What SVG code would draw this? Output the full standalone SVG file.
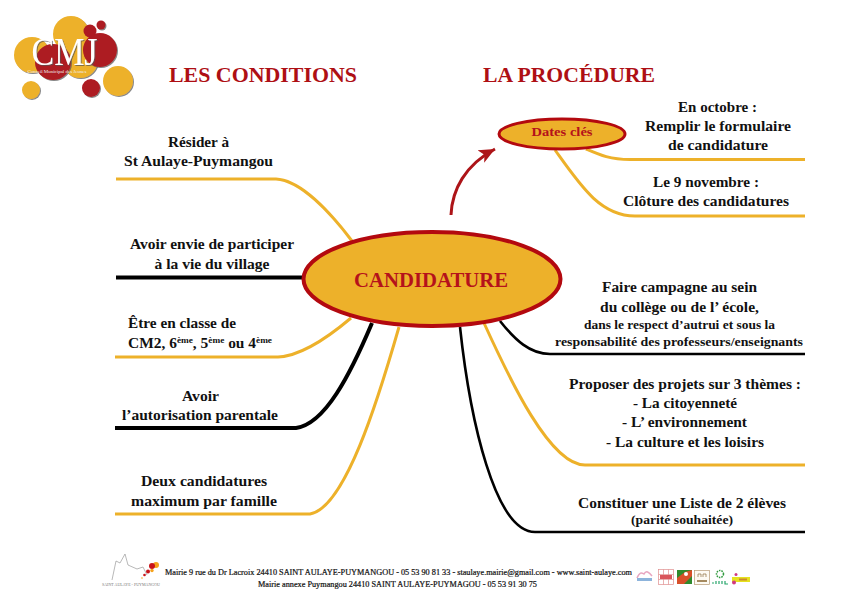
<svg xmlns="http://www.w3.org/2000/svg" width="842" height="595" viewBox="0 0 842 595">
<style>
text{font-family:"Liberation Serif","Times New Roman",serif;font-weight:bold;fill:#111;text-anchor:middle}
.t{font-size:15px}.s{font-size:13px}.h{font-size:22px;fill:#ae0f14}
.f{font-size:7.5px;font-weight:normal;stroke:#111;stroke-width:.2px}
.g{fill:none;stroke:#edb12a;stroke-width:3}.k{fill:none;stroke:#000;stroke-width:2.600}
.gold{fill:#edb12a}.red{fill:#ad1a21}
.el{fill:#edb12a;stroke:#b3090f}
</style>
<defs>
<marker id="ah" markerUnits="userSpaceOnUse" markerWidth="20" markerHeight="16" refX="16" refY="8" orient="auto"><path d="M0,1 L16,8 L0,15 L4,8 Z" fill="#ad1418"/></marker>
<filter id="sh" x="-20%" y="-20%" width="150%" height="150%"><feDropShadow dx="1" dy="1" stdDeviation="0.7" flood-color="#555" flood-opacity=".7"/></filter>
</defs>

<g id="logo-cmj">
<circle class="gold" cx="71" cy="34" r="18" filter="url(#sh)"/>
<circle class="gold" cx="32" cy="55" r="18" filter="url(#sh)"/>
<circle class="gold" cx="80" cy="60" r="18" filter="url(#sh)"/>
<circle class="red" cx="53" cy="62" r="18" filter="url(#sh)"/>
<circle class="red" cx="100" cy="50" r="17" filter="url(#sh)"/>
<circle class="red" cx="90" cy="31" r="6.500"/>
<circle class="red" cx="101" cy="25" r="4.500" filter="url(#sh)"/>
<circle class="gold" cx="118" cy="81" r="15" filter="url(#sh)"/>
<circle class="red" cx="91" cy="88" r="9" filter="url(#sh)"/>
<circle class="gold" cx="31" cy="90" r="9" filter="url(#sh)"/>
<text x="64.500" y="65" textLength="66" lengthAdjust="spacingAndGlyphs" filter="url(#sh)" style="font-size:40px;fill:#fff;font-weight:normal">CMJ</text>
<text x="57" y="72.500" textLength="59" lengthAdjust="spacingAndGlyphs" style="font-size:5px;fill:#eee;font-weight:normal">Conseil Municipal des Jeunes</text>
</g>

<g id="titles">
<text class="h" x="263" y="82" textLength="188" lengthAdjust="spacingAndGlyphs">LES CONDITIONS</text>
<text class="h" x="569" y="82" textLength="172" lengthAdjust="spacingAndGlyphs">LA PROCÉDURE</text>
</g>

<g id="connectors">
<path class="g" d="M116,179 H276 C300,180 330,212 352,241"/>
<path class="k" style="stroke-width:4" d="M116,277.500 H304"/>
<path class="g" d="M115,357 H278 C300,356 325,340 351,318"/>
<path class="k" style="stroke-width:4" d="M115,428 H296 C325,424 350,375 372,323"/>
<path class="g" d="M115,514 H310 C345,508 378,400 399,327"/>
<path class="k" d="M500,321 C515,340 530,354 550,354 H805"/>
<path class="g" d="M484,323 C510,380 550,465 585,465 H805"/>
<path class="k" d="M460,327 C470,420 495,532 535,532 H805"/>
<path class="g" d="M586,149 C600,155 610,159.500 630,159.500 H805"/>
<path class="g" d="M555,150 C580,185 600,216 635,216 H805"/>
<path d="M451,215 C452,190 465,165 495,149" fill="none" stroke="#ad1418" stroke-width="3" marker-end="url(#ah)"/>
</g>

<g id="node-candidature">
<ellipse class="el" cx="432" cy="279" rx="128.500" ry="47" stroke-width="4"/>
<text x="431" y="287" textLength="154" lengthAdjust="spacingAndGlyphs" style="font-size:21px;fill:#b5121b">CANDIDATURE</text>
</g>
<g id="node-dates">
<ellipse class="el" cx="562" cy="134" rx="63" ry="15" stroke-width="3"/>
<text x="562" y="136" textLength="61" lengthAdjust="spacingAndGlyphs" style="font-size:13.500px;fill:#b5121b">Dates clés</text>
</g>

<g id="cond-resider">
<text class="t" x="198.500" y="146.500" textLength="61" lengthAdjust="spacingAndGlyphs">Résider à</text>
<text class="t" x="198.500" y="166" textLength="149" lengthAdjust="spacingAndGlyphs">St Aulaye-Puymangou</text>
</g>
<g id="cond-envie">
<text class="t" x="212" y="249" textLength="164" lengthAdjust="spacingAndGlyphs">Avoir envie de participer</text>
<text class="t" x="212" y="269" textLength="115" lengthAdjust="spacingAndGlyphs">à la vie du village</text>
</g>
<g id="cond-classe">
<text class="t" x="182" y="328" textLength="108" lengthAdjust="spacingAndGlyphs">Être en classe de</text>
<text class="t" x="200" y="348" textLength="144" lengthAdjust="spacingAndGlyphs">CM2, 6<tspan dy="-5" font-size="9">ème</tspan><tspan dy="5">, 5</tspan><tspan dy="-5" font-size="9">ème</tspan><tspan dy="5"> ou 4</tspan><tspan dy="-5" font-size="9">ème</tspan></text>
</g>
<g id="cond-autorisation">
<text class="t" x="200.500" y="401" textLength="37" lengthAdjust="spacingAndGlyphs">Avoir</text>
<text class="t" x="200" y="420" textLength="156" lengthAdjust="spacingAndGlyphs">l’autorisation parentale</text>
</g>
<g id="cond-famille">
<text class="t" x="204" y="486" textLength="126" lengthAdjust="spacingAndGlyphs">Deux candidatures</text>
<text class="t" x="204" y="506" textLength="146" lengthAdjust="spacingAndGlyphs">maximum par famille</text>
</g>

<g id="proc-octobre">
<text class="t" x="717.500" y="112" textLength="79" lengthAdjust="spacingAndGlyphs">En octobre :</text>
<text class="t" x="718" y="131" textLength="146" lengthAdjust="spacingAndGlyphs">Remplir le formulaire</text>
<text class="t" x="718" y="150" textLength="100" lengthAdjust="spacingAndGlyphs">de candidature</text>
</g>
<g id="proc-novembre">
<text class="t" x="706" y="187" textLength="106" lengthAdjust="spacingAndGlyphs">Le 9 novembre :</text>
<text class="t" x="706" y="206" textLength="166" lengthAdjust="spacingAndGlyphs">Clôture des candidatures</text>
</g>
<g id="proc-campagne">
<text class="t" x="679.500" y="292" textLength="155" lengthAdjust="spacingAndGlyphs">Faire campagne au sein</text>
<text class="t" x="679.500" y="312" textLength="159" lengthAdjust="spacingAndGlyphs">du collège ou de l’ école,</text>
<text class="s" x="679.500" y="329" textLength="191" lengthAdjust="spacingAndGlyphs">dans le respect d’autrui et sous la</text>
<text class="s" x="679" y="346" textLength="248" lengthAdjust="spacingAndGlyphs">responsabilité des professeurs/enseignants</text>
</g>
<g id="proc-projets">
<text class="t" x="685" y="389" textLength="232" lengthAdjust="spacingAndGlyphs">Proposer des projets sur 3 thèmes :</text>
<text class="t" x="685" y="408" textLength="104" lengthAdjust="spacingAndGlyphs">- La citoyenneté</text>
<text class="t" x="684.500" y="427" textLength="125" lengthAdjust="spacingAndGlyphs">- L’ environnement</text>
<text class="t" x="685" y="447" textLength="158" lengthAdjust="spacingAndGlyphs">- La culture et les loisirs</text>
</g>
<g id="proc-liste">
<text class="t" x="682" y="508" textLength="208" lengthAdjust="spacingAndGlyphs">Constituer une Liste de 2 élèves</text>
<text class="s" x="682" y="524" textLength="102" lengthAdjust="spacingAndGlyphs">(parité souhaitée)</text>
</g>

<g id="footer">
<text class="f" x="398.500" y="575" textLength="467" lengthAdjust="spacingAndGlyphs">Mairie 9 rue du Dr Lacroix 24410 SAINT AULAYE-PUYMANGOU - 05 53 90 81 33 - staulaye.mairie@gmail.com - www.saint-aulaye.com</text>
<text class="f" x="397.500" y="587" textLength="279" lengthAdjust="spacingAndGlyphs">Mairie annexe Puymangou 24410 SAINT AULAYE-PUYMAGOU - 05 53 91 30 75</text>
</g>

<g id="footer-logo">
<path d="M112,580 L116,561 L120,563 L125,554 L128,565 L137,569 L143,567 L147,575" fill="none" stroke="#999" stroke-width=".7"/>
<circle cx="156" cy="565" r="3" fill="#f6a21b"/>
<circle cx="152" cy="566" r="3" fill="#c8141a"/>
<circle cx="148" cy="571.500" r="2" fill="#c8141a"/>
<circle cx="152" cy="570.500" r="1.700" fill="#f6a21b"/>
<circle cx="144.500" cy="575" r="1.300" fill="#c8141a"/>
<circle cx="142" cy="578" r=".8" fill="#f6a21b"/>
<text x="131" y="586" textLength="58" lengthAdjust="spacingAndGlyphs" style="font-size:4.500px;font-weight:normal;fill:#777">SAINT AULAYE - PUYMANGOU</text>
</g>

<g id="partner-logos">
<path d="M637,578 C640,571 642,573 644,574 C646,570 649,572 652,576" fill="none" stroke="#e8a6c0" stroke-width="1.500"/>
<rect x="637" y="578" width="15" height="3" fill="#8db4dc"/>
<g fill="none" stroke="#e08f8f" stroke-width=".7"><rect x="658.500" y="569.500" width="15" height="15"/><path d="M663.500,569.500 V584.500 M668.500,569.500 V584.500 M658.500,574.500 H673.500 M658.500,579.500 H673.500"/></g>
<rect x="660" y="575" width="12" height="4" fill="#d9555a"/>
<rect x="677" y="570" width="15" height="14" fill="#2f8a2d"/>
<path d="M677,578 L685,572 L692,570 L692,576 L684,584 L677,584 Z" fill="#d8502a"/>
<circle cx="686" cy="574" r="2" fill="#fff"/>
<rect x="694.500" y="570.500" width="15" height="14" fill="#fdfaf2" stroke="#b79b74" stroke-width=".7"/>
<path d="M698,577 V574 H701 V577 M703,577 V574 H706 V577" fill="none" stroke="#8a6a3c" stroke-width=".7"/>
<rect x="697" y="580" width="10" height="2" fill="#a58a5f"/>
<circle cx="720" cy="574" r="3.500" fill="none" stroke="#2f9a3d" stroke-width="1.500" stroke-dasharray="1.500 1"/>
<path d="M712,583 H714 M716,581 V584 M719,581 V584 M722,581 V584 M725,581 V584 H728" fill="none" stroke="#25a56a" stroke-width="1.200"/>
<rect x="732" y="577" width="18" height="5" fill="#e6e21e"/>
<circle cx="736" cy="574.500" r="1.500" fill="#d2397f"/>
<circle cx="734" cy="582.500" r="2" fill="#d2397f"/>
<rect x="739" y="578.500" width="8" height="2" fill="#cc8a2d"/>
</g>
</svg>
